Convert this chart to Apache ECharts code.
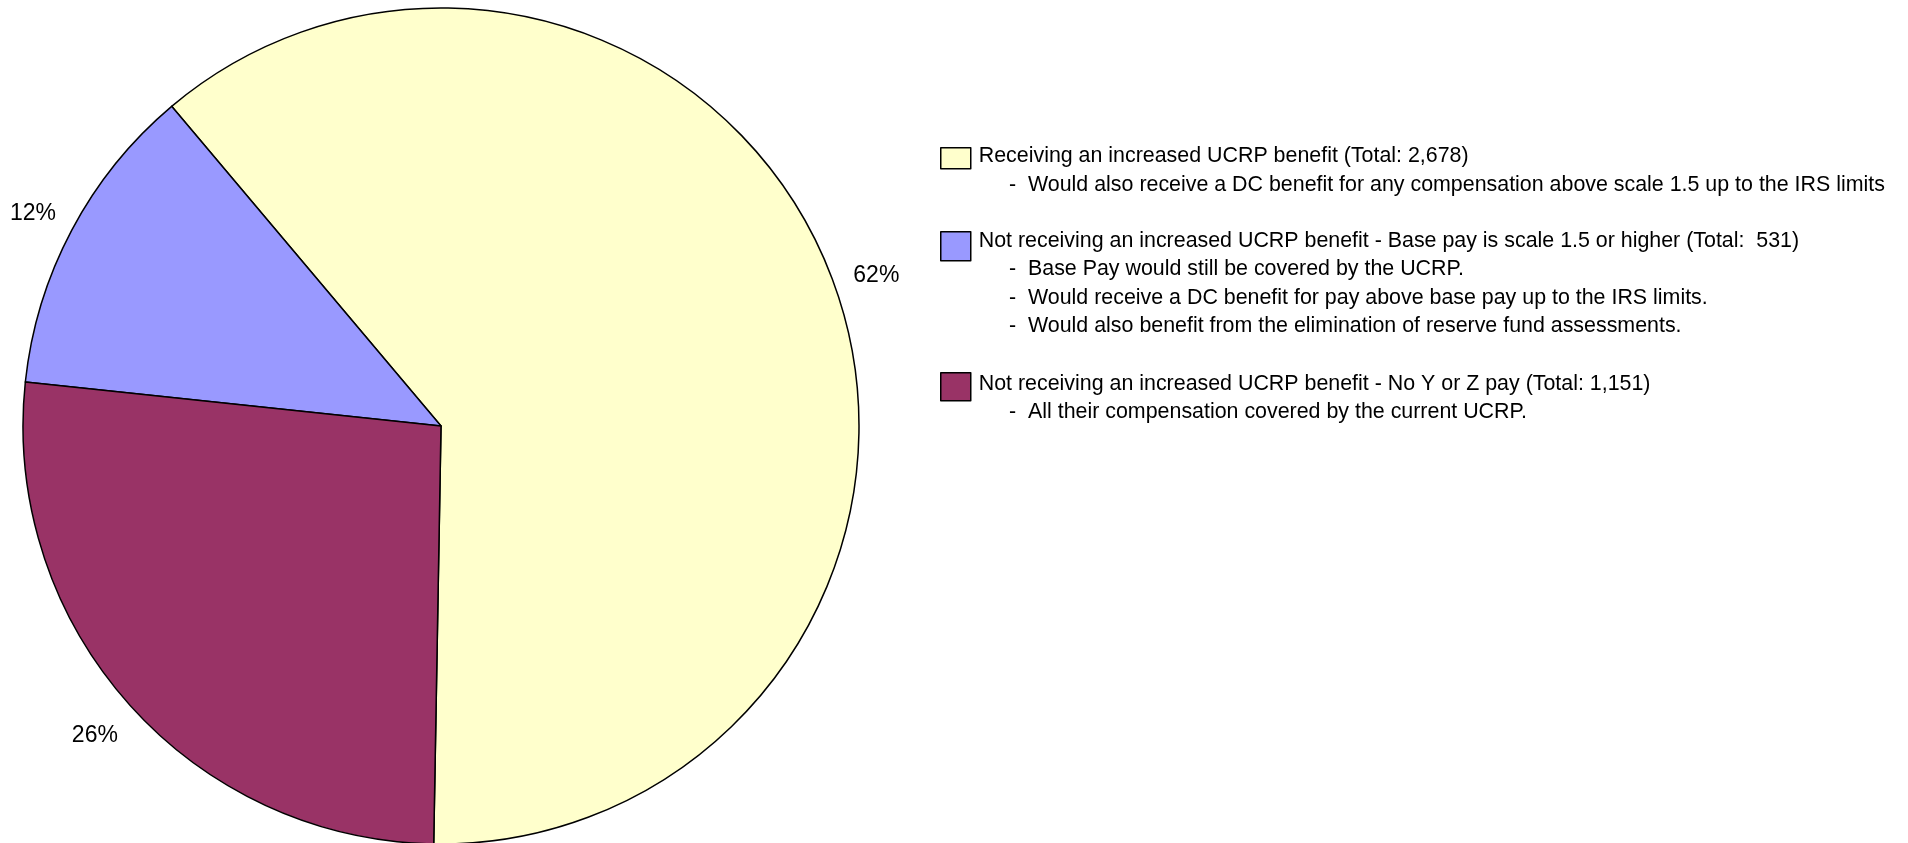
<!DOCTYPE html>
<html>
<head>
<meta charset="utf-8">
<title>UCRP benefit pie</title>
<script src="https://cdn.jsdelivr.net/npm/echarts@6/dist/echarts.min.js"></script>
<style>
  html, body { margin: 0; padding: 0; background: #fff; }
  #chart { width: 1908px; height: 843px; }
</style>
</head>
<body>
<div id="chart"></div>
<script>
// data
var categories = [
    'Receiving an increased UCRP benefit (Total: 2,678)',
    'Not receiving an increased UCRP benefit - Base pay is scale 1.5 or higher (Total:  531)',
    'Not receiving an increased UCRP benefit - No Y or Z pay (Total: 1,151)'
];
var counts = [2678, 531, 1151];
var pctLabels = ['62%', '12%', '26%'];
var subLines = [
    ['Would also receive a DC benefit for any compensation above scale 1.5 up to the IRS limits'],
    ['Base Pay would still be covered by the UCRP.',
     'Would receive a DC benefit for pay above base pay up to the IRS limits.',
     'Would also benefit from the elimination of reserve fund assessments.'],
    ['All their compensation covered by the current UCRP.']
];
var colors = ['#FFFFCC', '#9999FF', '#993366'];

var FONT = '"Liberation Sans", Arial, Helvetica, sans-serif';
var chart = echarts.init(document.getElementById('chart'));

// legend column layout: excel draws each box a little below its text line,
// so the box path carries an empty move-to above it
var legendTops = [142, 221, 367];
var boxH = [21, 29, 28];
var boxDrop = [5, 10, 5];
var firstLineY = [156.5, 241, 384];
var lineH = 28.5;

var legends = categories.map(function (name, i) {
    return {
        data: [name],
        orient: 'vertical',
        left: 940,
        top: legendTops[i],
        padding: 0,
        icon: 'path://M0,-' + boxDrop[i] + 'M0,0h30v' + boxH[i] + 'h-30z',
        itemWidth: 30,
        itemHeight: boxH[i] + boxDrop[i],
        selectedMode: false,
        itemStyle: { borderColor: '#000', borderWidth: 1.5 },
        textStyle: { fontSize: 21.4, color: '#000', fontFamily: FONT, padding: [0, 0, 0, 3] }
    };
});

// sub bullet lines under each legend entry
var subText = [];
subLines.forEach(function (lines, i) {
    lines.forEach(function (t, j) {
        subText.push({
            type: 'text',
            x: 1009,
            y: firstLineY[i] + lineH * (j + 1),
            style: {
                text: '-  ' + t,
                fill: '#000',
                font: '21.4px ' + FONT,
                verticalAlign: 'middle'
            }
        });
    });
});

var option = {
    animation: false,
    backgroundColor: '#fff',
    color: colors,
    legend: legends,
    graphic: subText,
    series: [{
        type: 'pie',
        center: [441, 426],
        radius: [0, 418],
        startAngle: 269,
        clockwise: false,
        avoidLabelOverlap: false,
        itemStyle: { borderColor: '#000', borderWidth: 1.5 },
        label: {
            show: true,
            position: 'outside',
            fontSize: 23,
            color: '#000',
            fontFamily: FONT,
            formatter: function (p) { return pctLabels[p.dataIndex]; }
        },
        labelLine: { show: true, length: 44, length2: 0, lineStyle: { width: 0, opacity: 0 } },
        labelLayout: function (p) {
            var pts = p.labelLinePoints;
            if (!pts) return {};
            return { x: pts[1][0], y: pts[1][1] + 4, align: 'center', verticalAlign: 'middle' };
        },
        emphasis: { disabled: true },
        data: categories.map(function (name, i) {
            return { name: name, value: counts[i] };
        })
    }]
};
chart.setOption(option);
</script>
</body>
</html>
